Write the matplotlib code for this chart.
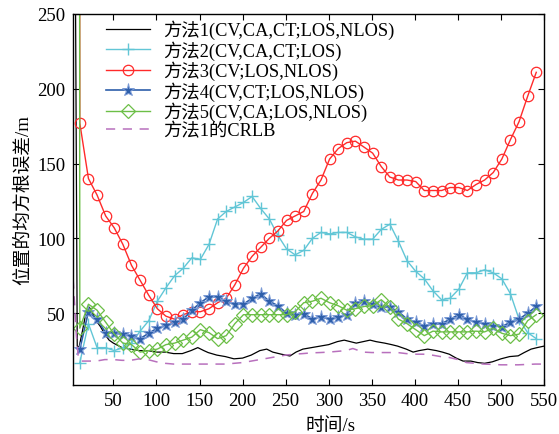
import matplotlib.pyplot as plt
import numpy as np

plt.rcParams['font.family'] = ['Liberation Serif', 'Noto Sans CJK SC']
plt.rcParams['axes.unicode_minus'] = False

# 采样时刻 (带标记的曲线每10 s一个点)
t_mk = list(range(11, 542, 10))
t_head = [1, 10]   # 起始段, 超出坐标范围

# 方法1 (黑色实线)
t1 = [1, 6, 8, 10, 14, 18, 22, 26, 30, 35, 40, 45, 50, 60, 70, 80, 90, 100, 110, 120,
      130, 140, 148, 155, 160, 170, 180, 190, 200, 210, 220, 228, 235, 245, 255, 262,
      270, 280, 290, 300, 310, 318, 325, 332, 340, 348, 355, 365, 373, 380, 390, 398,
      405, 415, 425, 432, 440, 448, 456, 465, 473, 481, 490, 500, 510, 520, 527, 535,
      542, 550]
m1 = [400, 260, 28, 27, 38, 50, 54, 50, 45, 41, 36, 32, 30, 27, 26, 25, 25, 24, 24, 23,
      23, 25, 27, 25, 23.7, 22, 21, 19.5, 20, 22, 25, 26, 24, 22.6, 21.4, 24,
      26, 27, 28, 29, 31, 32, 31, 30, 31, 32, 31, 30, 29, 28, 26, 24,
      25, 26, 25, 24, 22.6, 20, 18, 18, 17, 16.5, 17.5, 19.5, 21, 21.5, 23.7, 26,
      27, 28]

# 方法2 (青色 +)
m2 = [17, 43, 27, 27, 25, 27, 30, 38, 45, 58, 67, 75, 80, 87, 86, 96, 113, 118, 121, 124,
      128, 120, 113, 102, 93, 89, 92, 100, 104, 103, 104, 104, 101, 99.5, 99.5, 106, 109.5,
      98, 85, 78, 73, 65, 59, 60, 66, 77, 77, 79, 77, 73, 63, 46, 37, 33]

# 方法3 (红色 o)
m3 = [177, 140, 129, 115, 107, 96, 82, 72, 62, 53, 48, 46, 49, 51, 51, 53, 57, 60, 69, 80,
      88, 94, 100, 105, 112, 115, 118, 130, 139, 153, 160, 164, 165, 161, 157, 148, 141,
      139, 139, 138, 132, 132, 132, 134, 134, 132, 136, 139, 144, 153, 166, 178, 195, 211]
m3_head = [1500, 1000]

# 方法4 (蓝色 星)
m4 = [26, 51, 46, 37, 36.6, 36, 35, 33, 36.6, 40, 42, 44, 46, 52, 57, 61, 61, 58, 56, 56,
      60, 63, 58, 55, 50, 49, 49.5, 46.4, 47.5, 46, 47.5, 49, 57, 58, 56, 54, 54, 51, 46,
      44, 41.5, 42.6, 43, 46, 49, 46, 44, 43, 41.5, 41, 44, 46, 50, 54.5]

# 方法5 (绿色 菱形)
m5 = [40, 56, 52, 44, 36, 30, 29, 24, 25, 26, 29, 30, 32, 34, 39, 37, 33, 35, 43, 49,
      49, 49, 49, 49, 49, 51, 57, 58, 60, 57, 55, 52, 53, 54.5, 55, 59, 54, 46, 43, 39,
      35, 38, 37.5, 37.5, 37.5, 37.5, 38, 37.5, 40, 36.6, 35, 36, 45, 49]
m5_head = [1500, 1000]

# 方法1的CRLB (紫色虚线)
t_crlb = [1, 3, 5, 7, 9, 11, 20, 30, 40, 50, 60, 70, 80, 90, 100, 110, 120, 140, 160,
          180, 200, 210, 220, 230, 240, 250, 260, 270, 280, 290, 300, 310, 320, 328, 335,
          340, 350, 360, 370, 380, 390, 400, 410, 420, 430, 440, 450, 460, 470, 480, 490,
          500, 520, 540, 550]
crlb = [95, 75, 55, 35, 22, 18, 18, 18, 19, 19, 18.5, 18.5, 19.5, 19, 17.5, 16.5, 16, 16,
        16, 16, 17, 18, 19, 20, 21, 22, 22.6, 23, 23.5, 23.7, 24, 24.5, 25, 26.4, 25,
        24, 23.7, 23.7, 23.7, 23.7, 23, 22.6, 22.6, 22, 21, 20.4, 19, 17, 16.5, 16, 15.8,
        15.5, 15.5, 16, 16]

labels = ['方法1(CV,CA,CT;LOS,NLOS)', '方法2(CV,CA,CT;LOS)', '方法3(CV;LOS,NLOS)',
          '方法4(CV,CT;LOS,NLOS)', '方法5(CV,CA;LOS,NLOS)', '方法1的CRLB']

fig = plt.figure(figsize=(5.59, 4.35), dpi=100)
ax = fig.add_axes([0.1297, 0.1126, 0.8435, 0.853])

ax.plot(t1, m1, color='black', lw=0.9, label=labels[0])
ax.plot(t_mk, m2, color='#62c6d6', lw=1.0, marker='+', ms=8, mew=1.0, label=labels[1])
ax.plot(t_head + t_mk, m3_head + m3, color='#ff2a2a', lw=1.0, marker='o', ms=7.5,
        mfc='none', mew=0.9, markevery=slice(2, None), label=labels[2])
ax.plot(t_mk, m4, color='#2e5faa', lw=1.2, marker='*', ms=9.5, mfc='#2e5faa',
        mec='#7a9ad6', mew=0.7, label=labels[3])
ax.plot(t_head + t_mk, m5_head + m5, color='#6cbf47', lw=1.0, marker='D', ms=7,
        mfc='none', mew=0.9, markevery=slice(2, None), label=labels[4])
ax.plot(t_crlb, crlb, color='#b870bd', lw=1.1, ls=(0, (6, 5)), label=labels[5])

ax.set_xlim(2.5, 550)
ax.set_ylim(2, 250)
ax.set_xticks(range(50, 551, 50))
ax.set_yticks(range(50, 251, 50))
ax.tick_params(direction='in', top=True, right=True, length=4, width=0.8,
               labelsize=13.5, pad=5)
for sp in ax.spines.values():
    sp.set_linewidth(1.0)

ax.set_xlabel('时间/s', fontsize=13.5)
ax.xaxis.set_label_coords(0.548, -0.087, transform=ax.transAxes)
ax.set_ylabel('位置的均方根误差/m', fontsize=13.5)

ax.legend(loc='upper left', bbox_to_anchor=(0.072, 0.985), frameon=False,
          fontsize=13.2, handlelength=2.4, handletextpad=0.7, labelspacing=0.05,
          borderpad=0, borderaxespad=0)

plt.savefig('out.png', dpi=100)
